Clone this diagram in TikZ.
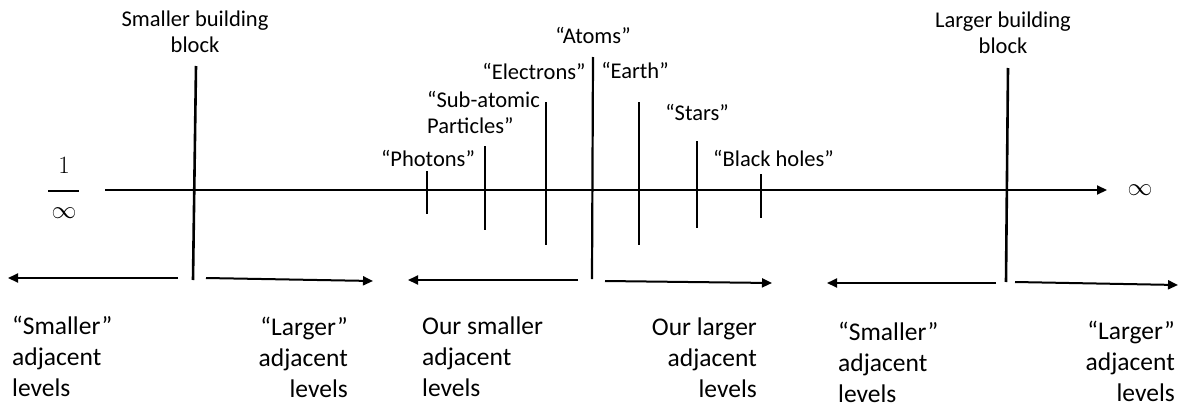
\documentclass[tikz,border=0pt]{standalone}
\usepackage{fontspec}
\setmainfont{Carlito}
\usetikzlibrary{arrows.meta}
\begin{document}
\begin{tikzpicture}[x=1pt,y=-1pt,
  lab/.style={font=\fontsize{22.5}{26}\selectfont, inner sep=0pt, align=center},
  labl/.style={font=\fontsize{22.5}{26}\selectfont, inner sep=0pt, align=left},
  botl/.style={font=\fontsize{25.5}{31}\selectfont, inner sep=0pt, align=left, anchor=base west},
  botr/.style={font=\fontsize{25.5}{31}\selectfont, inner sep=0pt, align=right, anchor=base east},
  axisline/.style={line width=2pt, -{Triangle[length=10pt,width=9pt]}},
  tickline/.style={line width=2.2pt},
  blockline/.style={line width=2.6pt},
  fracbar/.style={line width=2pt},
  arr/.style={line width=2pt, -{Triangle[length=10pt,width=9pt]}},
  mathlab/.style={font=\fontsize{30}{32}\selectfont, inner sep=0pt}
]
\useasboundingbox (0,0) rectangle (1178,407);

% main axis
\coordinate (ax0) at (105,190);
\coordinate (ax1) at (1107,190);
\draw[axisline] (ax0) -- (ax1);
\node[mathlab] (num) at (64,165) {$1$};
\coordinate (fb0) at (48,191); \coordinate (fb1) at (79,191);
\draw[fracbar] (fb0) -- (fb1);
\node[mathlab] (den) at (64,213) {$\infty$};
\node[mathlab] (inf) at (1140,190) {$\infty$};

% building block lines
\coordinate (sbT) at (196,66); \coordinate (sbB) at (193,280);
\draw[blockline] (sbT) -- (sbB);
\coordinate (lbT) at (1008,68); \coordinate (lbB) at (1006,282);
\draw[blockline] (lbT) -- (lbB);
\node[lab, anchor=base] (sbl) at (195,52) {Smaller building\\block};
\node[lab, anchor=base] (lbl) at (1003,53) {Larger building\\block};

% ticks
\coordinate (phT) at (427,171); \coordinate (phB) at (427,214);
\coordinate (saT) at (485,146); \coordinate (saB) at (485,230);
\coordinate (elT) at (546,102); \coordinate (elB) at (546,245);
\coordinate (atT) at (593,57);  \coordinate (atB) at (592,279);
\coordinate (eaT) at (639,102); \coordinate (eaB) at (639,245);
\coordinate (stT) at (697,141); \coordinate (stB) at (697,228);
\coordinate (bhT) at (761,174); \coordinate (bhB) at (761,218);
\foreach \a in {ph,sa,el,at,ea,st,bh} \draw[tickline] (\a T) -- (\a B);

\node[lab, anchor=base] (atl) at (593,43) {“Atoms”};
\node[lab, anchor=base] (ell) at (534,79) {“Electrons”};
\node[lab, anchor=base] (eal) at (635,78) {“Earth”};
\node[labl, anchor=base west] (sal) at (427,133) {“Sub-atomic\\Particles”};
\node[lab, anchor=base] (stl) at (697,120) {“Stars”};
\node[lab, anchor=base] (phl) at (428,166) {“Photons”};
\node[lab, anchor=base west] (bhl) at (713,166) {“Black holes”};

% level arrows
\coordinate (a1s) at (178,278); \coordinate (a1e) at (8,278);
\coordinate (a2s) at (206,278); \coordinate (a2e) at (373,281);
\coordinate (a3s) at (578,280); \coordinate (a3e) at (408,280);
\coordinate (a4s) at (605,281); \coordinate (a4e) at (772,283);
\coordinate (a5s) at (996,283); \coordinate (a5e) at (827,283);
\coordinate (a6s) at (1015,282); \coordinate (a6e) at (1178,285);
\foreach \i in {1,...,6} \draw[arr] (a\i s) -- (a\i e);

% bottom labels
\node[botl] (b1) at (12,396) {“Smaller”\\adjacent\\levels};
\node[botr] (b2) at (348,397) {“Larger”\\adjacent\\levels};
\node[botl] (b3) at (422,396) {Our smaller\\adjacent\\levels};
\node[botr] (b4) at (757,397) {Our larger\\adjacent\\levels};
\node[botl] (b5) at (838,402) {“Smaller”\\adjacent\\levels};
\node[botr] (b6) at (1175,401) {“Larger”\\adjacent\\levels};
\end{tikzpicture}
\end{document}
